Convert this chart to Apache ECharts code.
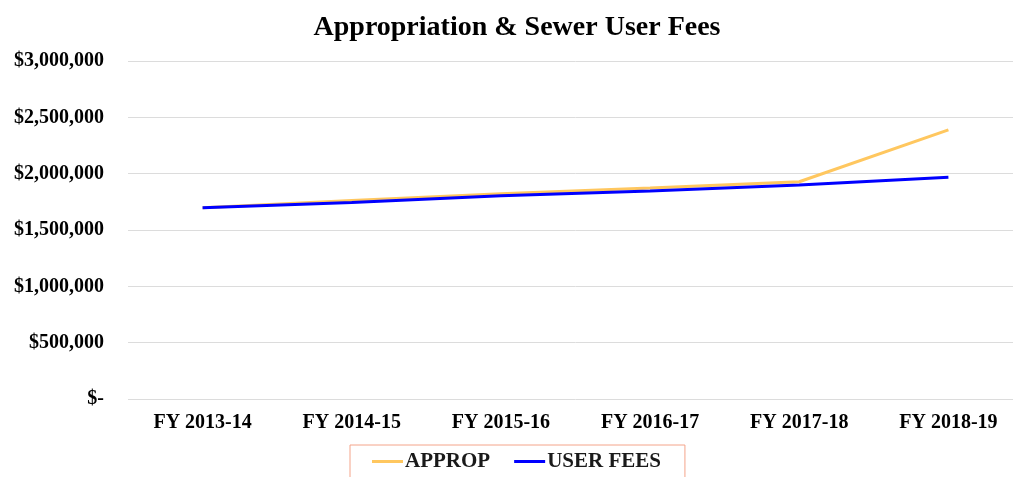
<!DOCTYPE html>
<html>
<head>
<meta charset="utf-8">
<script src="https://cdn.jsdelivr.net/npm/echarts@6/dist/echarts.min.js"></script>
<style>html,body{margin:0;padding:0;background:#fff;overflow:hidden}#c{width:1034px;height:477px}</style>
</head>
<body>
<div id="c"></div>
<script>
const categories = ['FY 2013-14','FY 2014-15','FY 2015-16','FY 2016-17','FY 2017-18','FY 2018-19'];
const appropValues = [1698000, 1762000, 1822000, 1873000, 1928000, 2388000];
const userFeeValues = [1698000, 1744000, 1803000, 1846000, 1900000, 1968000];
const seriesNames = ['APPROP', 'USER FEES'];
const yTicks = [0, 500000, 1000000, 1500000, 2000000, 2500000, 3000000];

const FONT = '"Liberation Serif", "DejaVu Serif", serif';
const chart = echarts.init(document.getElementById('c'));
chart.setOption({
  animation: false,
  backgroundColor: '#fff',
  title: {
    text: 'Appropriation & Sewer User Fees',
    left: 'center', top: 9,
    textStyle: { fontFamily: FONT, fontWeight: 'bold', fontSize: 28, color: '#000' }
  },
  grid: { left: 128, top: 61, right: 11, bottom: 78, containLabel: false },
  legend: {
    data: seriesNames.map(n => ({ name: n, icon: 'rect' })),
    top: 445, left: 350,
    itemWidth: 31, itemHeight: 3, itemGap: 24,
    padding: [6, 24, 16, 22],
    borderColor: '#f4a48a', borderWidth: 1,
    textStyle: { fontFamily: FONT, fontWeight: 'bold', fontSize: 21, color: '#1a1a1a', padding: [0,0,0,-3] }
  },
  xAxis: {
    type: 'category', data: categories, boundaryGap: true,
    axisLine: { show: false }, axisTick: { show: false },
    axisLabel: { fontFamily: FONT, fontWeight: 'bold', fontSize: 20, color: '#000', margin: 14 }
  },
  yAxis: {
    type: 'value', min: yTicks[0], max: yTicks[yTicks.length-1], interval: yTicks[1]-yTicks[0],
    axisLine: { show: false }, axisTick: { show: false },
    splitLine: { lineStyle: { color: '#dcdcdc', width: 1 } },
    axisLabel: {
      fontFamily: FONT, fontWeight: 'bold', fontSize: 20, color: '#000', margin: 24,
      formatter: v => v === 0 ? '$-' : '$' + v.toLocaleString('en-US')
    }
  },
  series: [
    { name: seriesNames[0], type: 'line', data: appropValues, showSymbol: false, symbol: 'none',
      lineStyle: { color: '#ffc75f', width: 3 }, itemStyle: { color: '#ffc75f' }, z: 2 },
    { name: seriesNames[1], type: 'line', data: userFeeValues, showSymbol: false, symbol: 'none',
      lineStyle: { color: '#0000ff', width: 3 }, itemStyle: { color: '#0000ff' }, z: 3 }
  ]
});
</script>
</body>
</html>
